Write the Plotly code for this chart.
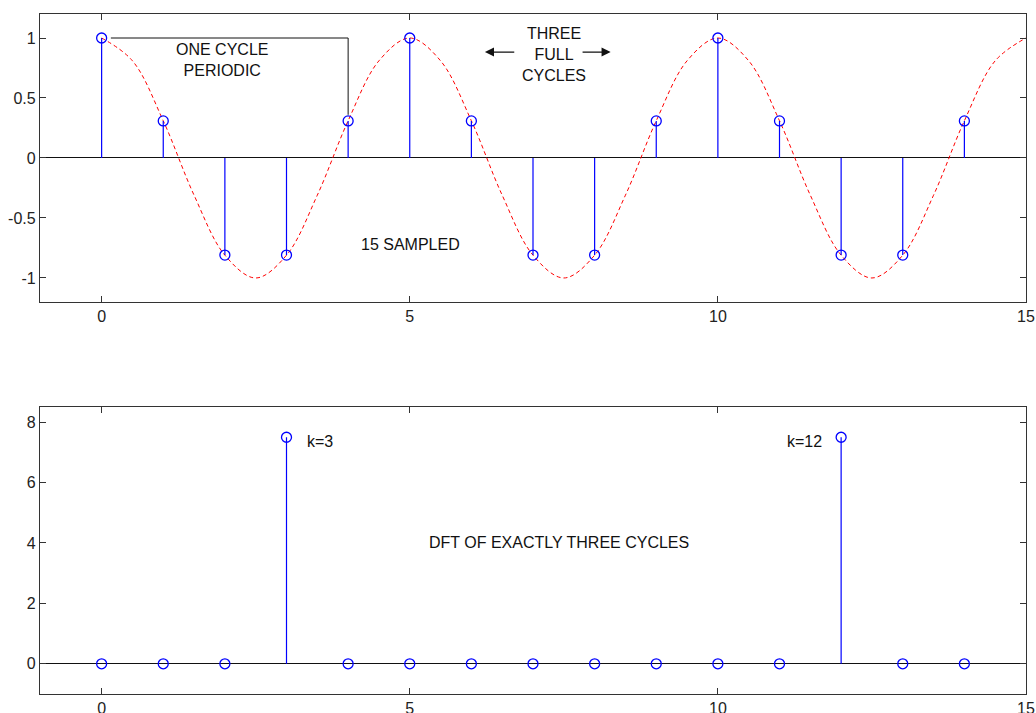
import plotly.graph_objects as go
from plotly.subplots import make_subplots

# ---- data ----
n_samples = list(range(15))
x_samples = [1, 0.309, -0.809, -0.809, 0.309,
             1, 0.309, -0.809, -0.809, 0.309,
             1, 0.309, -0.809, -0.809, 0.309]
curve_t = [i * 0.5 for i in range(31)]
curve_v = [1, 0.81, 0.31, -0.31, -0.81, -1, -0.81, -0.31, 0.31, 0.81,
           1, 0.81, 0.31, -0.31, -0.81, -1, -0.81, -0.31, 0.31, 0.81,
           1, 0.81, 0.31, -0.31, -0.81, -1, -0.81, -0.31, 0.31, 0.81, 1]
k_bins = list(range(15))
dft_mag = [0, 0, 0, 7.5, 0, 0, 0, 0, 0, 0, 0, 0, 7.5, 0, 0]

BLUE = "#0000ff"
FONT = "Liberation Sans, Arial, sans-serif"

fig = make_subplots(rows=2, cols=1, vertical_spacing=0.155)


def stems(xs, ys):
    sx, sy = [], []
    for a, b in zip(xs, ys):
        sx += [a, a, None]
        sy += [0, b, None]
    return sx, sy


# top panel
fig.add_trace(go.Scatter(x=curve_t, y=curve_v, mode="lines",
                         line=dict(color="#ff0000", width=1, dash="4px,3px", shape="spline"),
                         hoverinfo="skip"), row=1, col=1)
sx, sy = stems(n_samples, x_samples)
fig.add_trace(go.Scatter(x=sx, y=sy, mode="lines", line=dict(color=BLUE, width=1.2),
                         hoverinfo="skip"), row=1, col=1)
fig.add_trace(go.Scatter(x=n_samples, y=x_samples, mode="markers",
                         marker=dict(symbol="circle-open", size=10, color=BLUE,
                                     line=dict(width=1.3, color=BLUE))), row=1, col=1)

# bottom panel
sx2, sy2 = stems(k_bins, dft_mag)
fig.add_trace(go.Scatter(x=sx2, y=sy2, mode="lines", line=dict(color=BLUE, width=1.2),
                         hoverinfo="skip"), row=2, col=1)
fig.add_trace(go.Scatter(x=k_bins, y=dft_mag, mode="markers",
                         marker=dict(symbol="circle-open", size=10, color=BLUE,
                                     line=dict(width=1.3, color=BLUE))), row=2, col=1)

axis_common = dict(showgrid=False, showline=True, mirror="ticks", linecolor="#333",
                   linewidth=1.3, ticks="inside", ticklen=6, tickcolor="#333",
                   automargin=False,
                   tickfont=dict(family=FONT, size=16, color="#222"))

fig.update_xaxes(range=[-1, 15], tickvals=[0, 5, 10, 15], zeroline=False, **axis_common)
fig.update_yaxes(zeroline=True, zerolinecolor="#111", zerolinewidth=1.2, **axis_common)
fig.update_yaxes(range=[-1.2, 1.2], tickvals=[-1, -0.5, 0, 0.5, 1],
                 ticktext=["-1", "-0.5", "0", "0.5", "1"], row=1, col=1)
fig.update_yaxes(range=[-1, 8.5], tickvals=[0, 2, 4, 6, 8], row=2, col=1)

# bracket "one cycle"
fig.add_trace(go.Scatter(x=[0.15, 4, 4], y=[1, 1, 0.36], mode="lines",
                         line=dict(color="#111", width=1), hoverinfo="skip"), row=1, col=1)

tf = dict(family=FONT, size=16, color="#111")
fig.add_annotation(x=1.96, y=0.82, xref="x", yref="y", text="ONE CYCLE<br>PERIODIC",
                   showarrow=False, font=tf)
fig.add_annotation(x=7.34, y=0.865, xref="x", yref="y", text="THREE<br>FULL<br>CYCLES",
                   showarrow=False, font=tf)
fig.add_annotation(x=6.22, y=0.883, ax=6.72, ay=0.883, xref="x", yref="y", axref="x", ayref="y",
                   text="", showarrow=True, arrowhead=2, arrowsize=1.4, arrowwidth=1.3,
                   arrowcolor="#111")
fig.add_annotation(x=8.26, y=0.883, ax=7.78, ay=0.883, xref="x", yref="y", axref="x", ayref="y",
                   text="", showarrow=True, arrowhead=2, arrowsize=1.4, arrowwidth=1.3,
                   arrowcolor="#111")
fig.add_annotation(x=5.02, y=-0.72, xref="x", yref="y", text="15 SAMPLED",
                   showarrow=False, font=tf)
fig.add_annotation(x=3.3, y=7.37, xref="x2", yref="y2", text="k=3", xanchor="left",
                   showarrow=False, font=tf)
fig.add_annotation(x=11.72, y=7.37, xref="x2", yref="y2", text="k=12", xanchor="right",
                   showarrow=False, font=tf)
fig.add_annotation(x=7.42, y=4.0, xref="x2", yref="y2", text="DFT OF EXACTLY THREE CYCLES",
                   showarrow=False, font=tf)

fig.update_layout(width=1036, height=713, showlegend=False,
                  margin=dict(l=40, r=10, t=14, b=19),
                  paper_bgcolor="white", plot_bgcolor="white",
                  font=dict(family=FONT))
fig.layout.yaxis.domain = [0.5765, 1.0]
fig.layout.yaxis2.domain = [0.0, 0.422]

fig.write_html("out.html", config={"displayModeBar": False},
               post_script="document.body.style.margin='0';")
